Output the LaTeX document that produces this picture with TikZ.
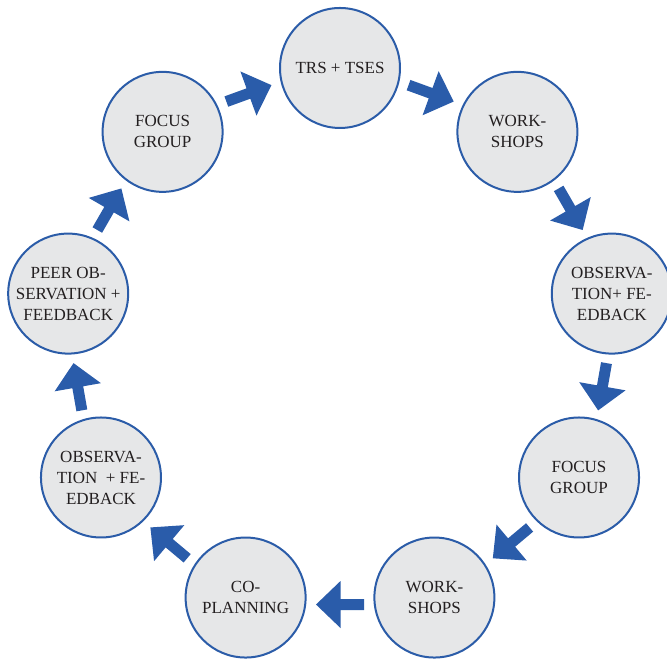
\documentclass[tikz,border=0pt]{standalone}
\usepackage{fontspec}
\setmainfont{Liberation Serif}
\newfontfamily\stagefont{Liberation Serif}
\usetikzlibrary{calc}
\definecolor{ringblue}{RGB}{43,92,168}
\definecolor{flowblue}{RGB}{42,92,170}
\definecolor{stagefill}{RGB}{230,231,232}
\definecolor{inktext}{RGB}{35,31,32}
\newcommand\flowarrow[3]{%
  \begin{scope}[shift={($(#1)!0.5!(#2)$)}, rotate=#3-90]
    \fill[flowblue] (-24,12.5) -- (-0.5,12.5) -- (-0.5,30.5) -- (24,7) -- (-0.5,-16.5) -- (-0.5,1.5) -- (-24,1.5) -- cycle;
  \end{scope}}
\begin{document}
\begin{tikzpicture}[x=1pt,y=1pt,
  stage/.style={circle, draw=ringblue, line width=2pt, fill=stagefill, minimum size=120pt, inner sep=0pt},
  txt/.style={text=inktext, align=center, font=\stagefont\fontsize{17}{21}\selectfont, inner sep=0pt}]
\useasboundingbox (0,0) rectangle (667,660);
\coordinate (c) at (340,319);
\node[stage, label={[txt]center:TRS + TSES}] (n1) at ($(c)+(90:276 and 273)$) {};
\node[stage, label={[txt]center:{WORK-\\SHOPS}}] (n2) at ($(c)+(50:276 and 273)$) {};
\node[stage, label={[txt]center:{OBSERVA-\\TION+ FE-\\EDBACK}}] (n3) at ($(c)+(10:276 and 273)$) {};
\node[stage, label={[txt]center:{FOCUS\\GROUP}}] (n4) at ($(c)+(-30:276 and 273)$) {};
\node[stage, label={[txt]center:{WORK-\\SHOPS}}] (n5) at ($(c)+(-70:276 and 273)$) {};
\node[stage, label={[txt]center:{CO-\\PLANNING}}] (n6) at ($(c)+(-110:276 and 273)$) {};
\node[stage, label={[txt]center:{OBSERVA-\\TION\ \ + FE-\\EDBACK}}] (n7) at ($(c)+(-150:276 and 273)$) {};
\node[stage, label={[txt]center:{PEER OB-\\SERVATION +\\FEEDBACK}}] (n8) at ($(c)+(170:276 and 273)$) {};
\node[stage, label={[txt]center:{FOCUS\\GROUP}}] (n9) at ($(c)+(130:276 and 273)$) {};
\flowarrow{n1}{n2}{70}
\flowarrow{n2}{n3}{30}
\flowarrow{n3}{n4}{-10}
\flowarrow{n4}{n5}{-50}
\flowarrow{n5}{n6}{-90}
\flowarrow{n6}{n7}{-130}
\flowarrow{n7}{n8}{-170}
\flowarrow{n8}{n9}{150}
\flowarrow{n9}{n1}{110}
\end{tikzpicture}
\end{document}
